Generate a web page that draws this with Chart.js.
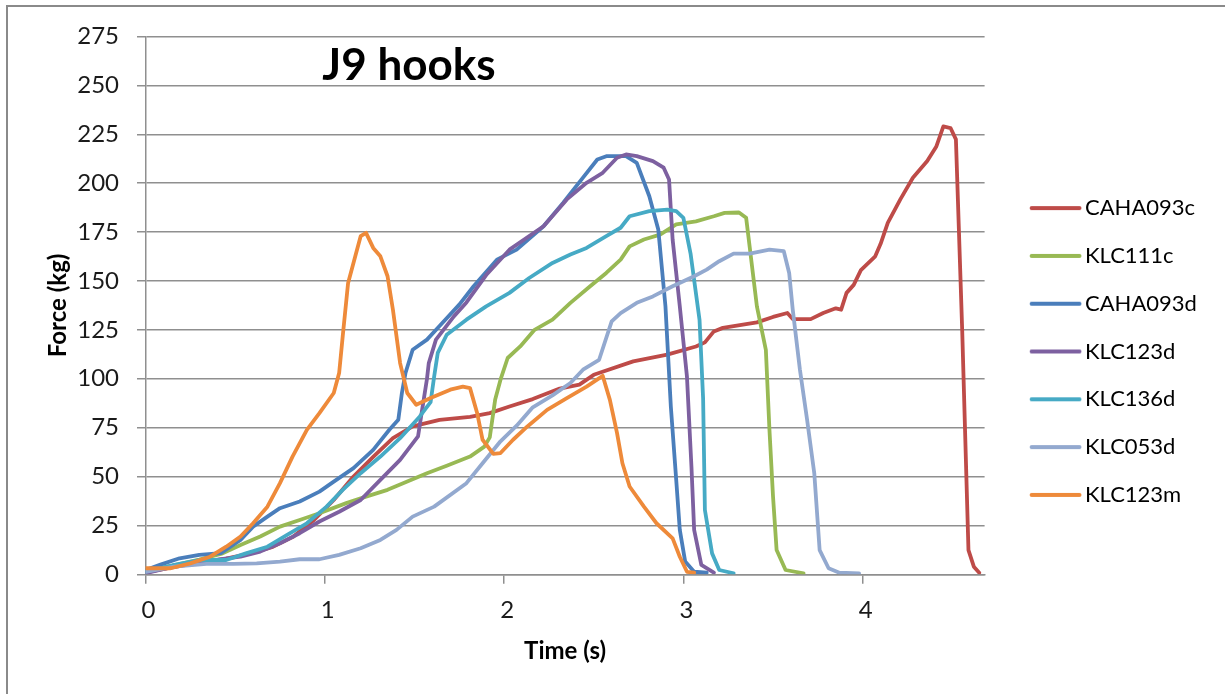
<!DOCTYPE html>
<html>
<head>
<meta charset="utf-8">
<script src="https://cdn.jsdelivr.net/npm/chart.js@4.4.1/dist/chart.umd.min.js"></script>
<style>
  html, body { margin: 0; padding: 0; background: #ffffff; overflow: hidden; }
  #wrap { position: relative; width: 1225px; height: 694px; overflow: hidden; }
  #frame { position: absolute; left: 6px; top: 5px; width: 2000px; height: 2000px;
           border: 2px solid #8a8a8a; box-sizing: border-box; }
  #c { position: absolute; left: 0; top: 0; }
</style>
</head>
<body>
<div id="wrap">
  <div id="frame"></div>
  <canvas id="c" width="1225" height="694"></canvas>
</div>
<script>
// ---------------- data ----------------
const seriesNames = ['CAHA093c', 'KLC111c', 'CAHA093d', 'KLC123d', 'KLC136d', 'KLC053d', 'KLC123m'];
const xTickValues = [0, 1, 2, 3, 4];
const yTickValues = [0, 25, 50, 75, 100, 125, 150, 175, 200, 225, 250, 275];

const tCAHA093c = [0, 0.15, 0.3, 0.45, 0.58, 0.71, 0.82, 0.94, 1.05, 1.16, 1.27, 1.38, 1.49, 1.64, 1.81, 1.92, 2.03, 2.16, 2.31, 2.42, 2.5, 2.72, 2.91, 3.07, 3.12, 3.17, 3.22, 3.41, 3.5, 3.58, 3.61, 3.71, 3.78, 3.85, 3.88, 3.91, 3.95, 3.99, 4.07, 4.1, 4.14, 4.21, 4.28, 4.36, 4.41, 4.45, 4.49, 4.52, 4.555, 4.59, 4.62, 4.65];
const fCAHA093c = [1, 3.5, 6, 8, 10.6, 14, 19, 27.8, 38, 50, 60, 69.6, 75.6, 79, 80.5, 82.4, 85.8, 89.6, 95, 97, 102, 108.9, 112.3, 116.5, 118.6, 124.2, 126, 128.8, 131.6, 133.6, 130.5, 130.5, 133.6, 136, 135.3, 143.9, 148, 155.5, 162.6, 169, 179.7, 191.7, 202.8, 211.3, 218.6, 229, 228.2, 222.4, 125, 12.4, 3.9, 0.8];

const tKLC111c = [0, 0.15, 0.3, 0.43, 0.53, 0.64, 0.75, 0.86, 0.97, 1.12, 1.23, 1.35, 1.46, 1.57, 1.68, 1.81, 1.89, 1.92, 1.95, 1.98, 2.02, 2.09, 2.17, 2.27, 2.37, 2.48, 2.57, 2.65, 2.7, 2.78, 2.87, 2.96, 3.07, 3.17, 3.23, 3.31, 3.35, 3.41, 3.46, 3.48, 3.5, 3.52, 3.57, 3.67];
const fKLC111c = [2, 4.5, 7.5, 10.7, 15, 19.3, 24.4, 27.8, 31.2, 36.4, 39.7, 43.2, 47.4, 51.7, 55.5, 60.2, 65.3, 70, 89.2, 99.5, 110.6, 116.5, 125, 130.2, 138.8, 147.3, 154.1, 160.9, 167.7, 171.2, 173.7, 178.9, 180.5, 183.1, 184.8, 185, 182.3, 137, 114.8, 73.9, 39.7, 12.4, 2.2, 0.5];

const tCAHA093d = [0, 0.08, 0.19, 0.3, 0.42, 0.53, 0.6, 0.68, 0.75, 0.86, 0.97, 1.05, 1.16, 1.27, 1.36, 1.41, 1.43, 1.45, 1.49, 1.57, 1.64, 1.75, 1.83, 1.96, 2.07, 2.22, 2.33, 2.44, 2.52, 2.57, 2.68, 2.74, 2.81, 2.86, 2.9, 2.93, 2.96, 2.98, 3.01, 3.06, 3.13];
const fCAHA093d = [2.2, 4.8, 8.2, 9.9, 10.8, 17.6, 24.4, 29.5, 33.8, 37.2, 42.3, 47.4, 54.3, 63.6, 73.9, 79, 92.7, 102.9, 114.8, 120, 127, 137.9, 147.3, 160.9, 166, 178, 190, 202.8, 212.1, 213.8, 213.8, 210.4, 193.3, 176.3, 137, 85.8, 48.3, 22.7, 6.5, 1.3, 0.8];

const tKLC123d = [0, 0.12, 0.25, 0.38, 0.53, 0.64, 0.75, 0.86, 0.97, 1.08, 1.2, 1.31, 1.42, 1.52, 1.54, 1.57, 1.58, 1.62, 1.72, 1.79, 1.9, 2.03, 2.22, 2.35, 2.46, 2.55, 2.63, 2.68, 2.74, 2.83, 2.89, 2.92, 2.94, 2.98, 3.02, 3.045, 3.06, 3.1, 3.17];
const fKLC123d = [0.5, 3.1, 5.6, 7.3, 9, 11.6, 15.9, 21, 27, 32, 38, 48.3, 58.5, 70.5, 82.4, 100, 108, 120, 131.9, 139, 153, 166, 178, 191.7, 200.2, 205.3, 213, 214.7, 213.8, 211.3, 207.9, 201.9, 171.2, 137, 101, 55, 22.7, 4.8, 0.8];

const tKLC136d = [0, 0.16, 0.3, 0.45, 0.56, 0.68, 0.79, 0.9, 1.01, 1.1, 1.2, 1.31, 1.42, 1.53, 1.59, 1.61, 1.63, 1.68, 1.79, 1.9, 2.03, 2.14, 2.27, 2.37, 2.46, 2.57, 2.65, 2.7, 2.81, 2.91, 2.96, 3.0, 3.04, 3.09, 3.11, 3.12, 3.16, 3.2, 3.28];
const fKLC136d = [1.3, 4.8, 7.3, 7.3, 10.7, 14.1, 20.1, 26.1, 34.6, 43.2, 51.7, 60.2, 69.6, 80.7, 88, 101.2, 113.2, 122.5, 130.2, 137, 143.9, 151.5, 159.2, 163.5, 166.9, 172.9, 177.2, 183.1, 185.7, 186.5, 185.7, 182.3, 164, 130.2, 90, 32.9, 10.7, 2.2, 0.5];

const tKLC053d = [0, 0.16, 0.34, 0.49, 0.62, 0.75, 0.86, 0.97, 1.08, 1.2, 1.31, 1.4, 1.49, 1.61, 1.79, 1.88, 1.98, 2.07, 2.16, 2.27, 2.37, 2.44, 2.53, 2.6, 2.65, 2.74, 2.83, 2.94, 3.06, 3.13, 3.2, 3.28, 3.37, 3.48, 3.56, 3.59, 3.61, 3.65, 3.69, 3.73, 3.76, 3.81, 3.87, 3.98];
const fKLC053d = [1.3, 3.9, 5.3, 5.3, 5.6, 6.5, 7.7, 7.7, 9.9, 13.3, 17.6, 22.7, 29.5, 34.6, 46.6, 56.8, 68, 76, 85.4, 91.5, 97.8, 104.6, 109.7, 129.3, 133.6, 138.8, 142.1, 147.3, 152.4, 155.8, 160.1, 164, 164, 166, 165.2, 154.1, 135.3, 104.6, 79, 51.7, 12.4, 3.1, 0.8, 0.5];

const tKLC123m = [0, 0.14, 0.25, 0.36, 0.45, 0.53, 0.6, 0.68, 0.75, 0.82, 0.9, 0.97, 1.05, 1.08, 1.1, 1.13, 1.17, 1.2, 1.23, 1.27, 1.31, 1.35, 1.38, 1.42, 1.46, 1.51, 1.59, 1.7, 1.77, 1.81, 1.85, 1.88, 1.94, 1.98, 2.05, 2.13, 2.24, 2.35, 2.46, 2.55, 2.59, 2.63, 2.66, 2.7, 2.78, 2.85, 2.94, 2.98, 3.02, 3.06];
const fKLC123m = [3.1, 3.1, 5.6, 9, 14.1, 19.3, 26.1, 34.6, 46.6, 60.2, 73.9, 82.4, 92.7, 102.9, 121.7, 149, 162.6, 172.9, 174.6, 166.9, 162.6, 152.4, 135.3, 108, 92.7, 86.7, 90.1, 94.4, 96, 95.2, 82.4, 68.8, 61.6, 62, 68.8, 75.6, 84.1, 90.1, 96, 101.5, 89.2, 72.2, 56.8, 44.9, 34.6, 26.1, 18.4, 9, 1.3, 0.8];

const seriesTimes = [tCAHA093c, tKLC111c, tCAHA093d, tKLC123d, tKLC136d, tKLC053d, tKLC123m];
const seriesForces = [fCAHA093c, fKLC111c, fCAHA093d, fKLC123d, fKLC136d, fKLC053d, fKLC123m];
const seriesColors = ['#BE4B48', '#98B954', '#4A7EBB', '#7D60A0', '#46AAC5', '#93A9CF', '#EE8A3A'];

// ---------------- styling ----------------
const FONT = 'Lato';
const GRID = '#8f8f8f';
const TEXT = '#1a1a1a';
const LINE_W = 3.8;

function swatch(color) {
  const c = document.createElement('canvas');
  c.width = 64; c.height = 10;
  const g = c.getContext('2d');
  g.strokeStyle = color; g.lineWidth = 4; g.lineCap = 'round';
  g.beginPath(); g.moveTo(10.6, 5); g.lineTo(58.5, 5); g.stroke();
  return c;
}

const datasets = seriesNames.map((name, i) => ({
  label: name,
  data: seriesTimes[i].map((t, k) => ({ x: t, y: seriesForces[i][k] })),
  borderColor: seriesColors[i],
  backgroundColor: seriesColors[i],
  borderWidth: LINE_W,
  borderCapStyle: 'round',
  borderJoinStyle: 'round',
  pointRadius: 0,
  pointHoverRadius: 0,
  pointStyle: swatch(seriesColors[i]),
  tension: 0,
  fill: false,
  order: seriesNames.length - i
}));

const LEGEND_W = 218.8;
const fixLegend = {
  id: 'fixLegend',
  beforeLayout(chart) {
    const lg = chart.legend;
    if (lg && !lg.__wrapped) {
      const f = lg.fit;
      lg.fit = function () { f.call(this); this.width = LEGEND_W; };
      lg.__wrapped = true;
    }
  }
};

const chartTitle = {
  id: 'chartTitle',
  afterDraw(chart) {
    const ctx = chart.ctx;
    ctx.save();
    ctx.font = 'bold 44px ' + FONT;
    ctx.fillStyle = '#000';
    ctx.textAlign = 'center';
    ctx.textBaseline = 'alphabetic';
    ctx.fillText('J9 hooks', 409, 79.5);
    ctx.restore();
  }
};

Chart.defaults.font.family = FONT;
Chart.defaults.color = TEXT;

new Chart(document.getElementById('c'), {
  type: 'line',
  data: { datasets },
  options: {
    responsive: false,
    animation: false,
    events: [],
    layout: { padding: { left: 0, top: 36.5, right: 0, bottom: 27.5 } },
    scales: {
      x: {
        type: 'linear',
        min: 0,
        max: 4.68,
        afterBuildTicks: s => { s.ticks = xTickValues.map(v => ({ value: v })); },
        afterFit: s => { s.height = 92.2; },
        ticks: { stepSize: 1, padding: 11.8, labelOffset: 3, color: TEXT, font: { size: 24 } },
        grid: { drawOnChartArea: false, drawTicks: true, tickLength: 9.5, color: GRID, lineWidth: 1.5 },
        border: { display: true, color: GRID, width: 1.5 },
        title: { display: true, text: 'Time (s)', color: '#000', font: { size: 24, weight: 'bold' }, padding: { top: 0, bottom: 1.1 } }
      },
      y: {
        type: 'linear',
        min: 0,
        max: 275,
        afterBuildTicks: s => { s.ticks = yTickValues.map(v => ({ value: v })); },
        afterFit: s => { s.width = 145.5; },
        ticks: { stepSize: 25, padding: 18, color: TEXT, font: { size: 24 } },
        grid: { drawTicks: true, tickLength: 8.5, color: GRID, lineWidth: 1.5 },
        border: { display: true, color: GRID, width: 1.5 },
        title: { display: true, text: 'Force (kg)', color: '#000', font: { size: 24, weight: 'bold' }, padding: { top: 43.6, bottom: 0 } }
      },
      gap: {
        type: 'linear',
        position: 'right',
        display: true,
        grid: { display: false },
        border: { display: false },
        ticks: { display: false },
        afterFit: s => { s.width = 21.6; }
      }
    },
    plugins: {
      legend: {
        position: 'right',
        align: 'center',
        labels: {
          usePointStyle: true,
          pointStyleWidth: 42,
          padding: 25.8,
          color: '#000',
          font: { size: 22 },
          sort: (a, b) => a.datasetIndex - b.datasetIndex
        }
      },
      tooltip: { enabled: false },
      title: { display: false }
    }
  },
  plugins: [fixLegend, chartTitle]
});
</script>
</body>
</html>
